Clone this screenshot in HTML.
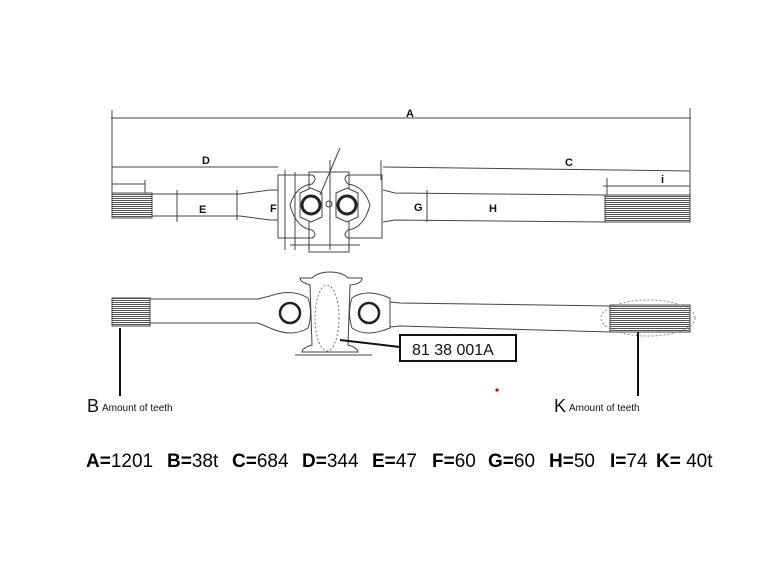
<!DOCTYPE html>
<html><head><meta charset="utf-8"><style>
html,body{margin:0;padding:0;background:#fff;width:770px;height:578px;overflow:hidden}
svg{display:block}
</style></head><body>
<svg width="770" height="578" viewBox="0 0 770 578" xmlns="http://www.w3.org/2000/svg" font-family="Liberation Sans, sans-serif">
<defs>
<pattern id="spl" width="4" height="2" patternUnits="userSpaceOnUse"><rect width="4" height="2" fill="#fff"/><rect width="4" height="1" fill="#555"/></pattern>
</defs>
<g stroke="#444" stroke-width="1" fill="none">
<line x1="111" y1="118" x2="691" y2="118"/>
<line x1="112" y1="110" x2="112" y2="195"/>
<line x1="690" y1="108" x2="690" y2="195"/>
<line x1="112" y1="167" x2="278" y2="167"/>
<line x1="383" y1="167" x2="690" y2="171"/>
<line x1="381" y1="160" x2="381" y2="180"/>
<line x1="603" y1="186" x2="690" y2="186"/>
<line x1="607" y1="178" x2="607" y2="195"/>
<line x1="112" y1="184" x2="145" y2="184"/>
<line x1="145" y1="180" x2="145" y2="195"/>
<line x1="177" y1="190" x2="177" y2="222"/>
<line x1="427" y1="190" x2="427" y2="222"/>
<line x1="237" y1="190" x2="237" y2="220"/>
<rect x="112" y="193" width="40" height="25" fill="url(#spl)"/>
<path d="M152 194 L240 194 L270 190 L278 190 M152 216 L240 216 L270 220 L278 220"/>
<path d="M383 190 L395 193 L605 195 M383 222 L395 220 L605 222"/>
<rect x="605" y="195" width="85" height="27" fill="url(#spl)"/>
<path d="M278 175 L312 175 Q318 178 312 184 Q296 186 290 205 Q296 228 312 230 Q318 235 312 238 L278 238 Z"/>
<path d="M382 175 L348 175 Q342 178 348 184 Q364 186 370 205 Q364 228 348 230 Q342 235 348 238 L382 238 Z"/>
<rect x="309" y="172" width="40" height="80"/>
<path d="M300 193 L311 188 L322 193 L322 217 L311 222 L300 217 Z" fill="#fff"/>
<path d="M336 193 L347 188 L358 193 L358 217 L347 222 L336 217 Z" fill="#fff"/>
<circle cx="311" cy="205" r="9" stroke-width="3" stroke="#222"/>
<circle cx="347" cy="205" r="9" stroke-width="3" stroke="#222"/>
<circle cx="329" cy="204" r="3"/>
<line x1="285" y1="170" x2="285" y2="250"/><line x1="295" y1="172" x2="295" y2="250"/>
<line x1="330" y1="160" x2="330" y2="250"/><line x1="340" y1="148" x2="320" y2="195"/>
<line x1="290" y1="245" x2="360" y2="245"/>
<rect x="112" y="298" width="38" height="28" fill="url(#spl)"/>
<path d="M150 299 L258 299 L270 296 M150 323 L258 323 L270 328"/>
<path d="M270 296 Q292 288 308 298 Q313 313 308 328 Q292 338 270 328"/>
<circle cx="290" cy="313" r="10" stroke-width="2.5" stroke="#222"/>
<path d="M390 298 Q366 288 352 298 Q347 313 352 328 Q366 338 390 328 Z"/>
<circle cx="369" cy="313" r="10" stroke-width="2.5" stroke="#222"/>
<path d="M390 302 L400 303 L610 306 M390 327 L400 326 L610 332"/>
<rect x="610" y="305" width="80" height="27" fill="url(#spl)"/>
<path d="M310 285 Q300 282 300 278 L312 278 Q318 272 330 272 Q342 272 348 278 L362 278 Q362 284 350 285 L348 345 Q358 348 358 352 L302 352 Q302 348 312 345 Z"/>
<line x1="295" y1="355" x2="372" y2="355"/>
<ellipse cx="327" cy="318" rx="12" ry="33" stroke-dasharray="2,2" stroke="#777"/>
<ellipse cx="648" cy="318" rx="47" ry="18" stroke-dasharray="2,2" stroke="#888"/>
</g>
<g stroke="#111" stroke-width="2">
<line x1="340" y1="340" x2="400" y2="347"/>
<line x1="120" y1="328" x2="120" y2="396"/>
<line x1="638" y1="332" x2="638" y2="396"/>
</g>
<rect x="400" y="335" width="116" height="26" fill="#fff" stroke="#111" stroke-width="2"/>
<text x="412" y="355" font-size="16" fill="#111">81 38 001A</text>
<circle cx="497" cy="390" r="1.6" fill="#c00"/>
<g font-weight="bold" font-size="11" fill="#111">
<text x="406" y="117">A</text><text x="202" y="164">D</text><text x="565" y="166">C</text>
<text x="661" y="183">i</text><text x="199" y="213">E</text><text x="270" y="212">F</text>
<text x="414" y="211">G</text><text x="489" y="212">H</text>
</g>
<text x="87" y="412" font-size="18" fill="#111">B</text>
<text x="102" y="411" font-size="10" fill="#111">Amount of teeth</text>
<text x="554" y="412" font-size="18" fill="#111">K</text>
<text x="569" y="411" font-size="10" fill="#111">Amount of teeth</text>
<g font-size="19" fill="#000">
<text x="86" y="467"><tspan font-weight="bold">A=</tspan>1201</text>
<text x="167" y="467"><tspan font-weight="bold">B=</tspan>38t</text>
<text x="232" y="467"><tspan font-weight="bold">C=</tspan>684</text>
<text x="302" y="467"><tspan font-weight="bold">D=</tspan>344</text>
<text x="372" y="467"><tspan font-weight="bold">E=</tspan>47</text>
<text x="432" y="467"><tspan font-weight="bold">F=</tspan>60</text>
<text x="488" y="467"><tspan font-weight="bold">G=</tspan>60</text>
<text x="549" y="467"><tspan font-weight="bold">H=</tspan>50</text>
<text x="610" y="467"><tspan font-weight="bold">I=</tspan>74</text>
<text x="656" y="467"><tspan font-weight="bold">K=</tspan> 40t</text>
</g>
</svg>
</body></html>
